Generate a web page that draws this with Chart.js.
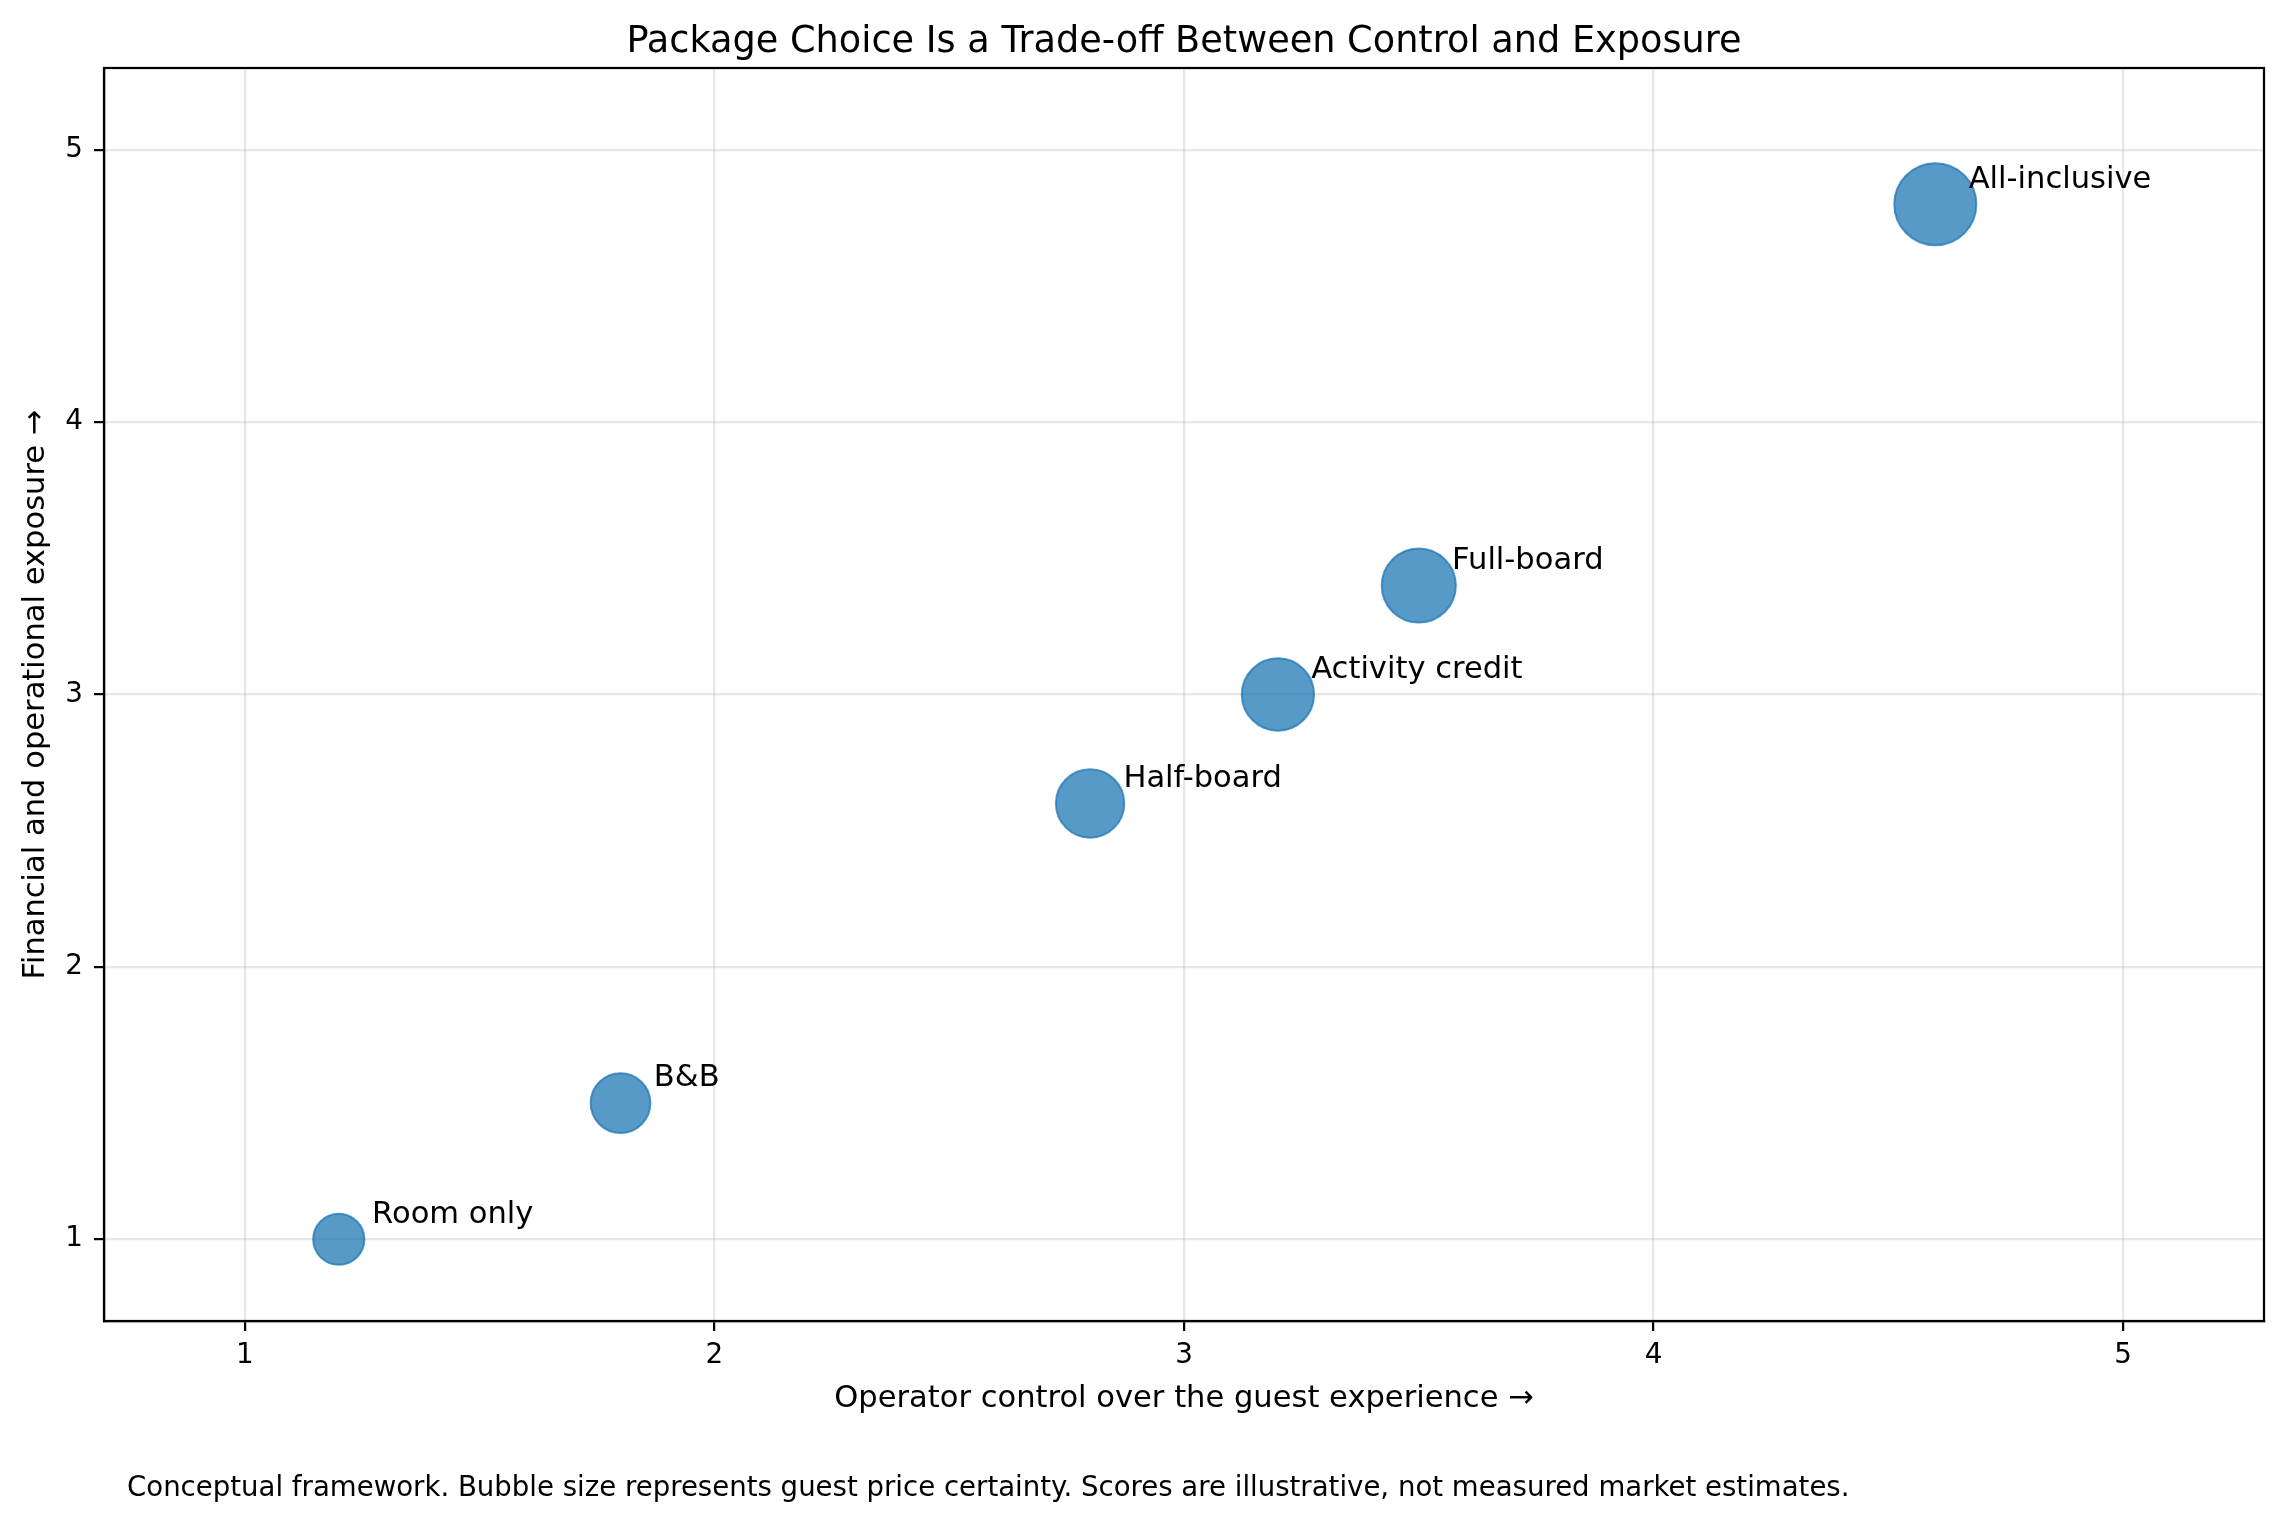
<!DOCTYPE html>
<html>
<head>
<meta charset="utf-8">
<script src="https://cdn.jsdelivr.net/npm/chart.js@4.4.1/dist/chart.umd.min.js"></script>
<style>
  html, body { margin: 0; padding: 0; background: #ffffff; }
  #wrap { width: 2286px; height: 1524px; position: relative; }
  canvas { display: block; }
</style>
</head>
<body>
<div id="wrap"><canvas id="c" width="2286" height="1524"></canvas></div>
<script>
// ---- data ----
const packages = ["Room only", "B&B", "Half-board", "Activity credit", "Full-board", "All-inclusive"];
const operatorControl = [1.2, 1.8, 2.8, 3.2, 3.5, 4.6];
const financialExposure = [1.0, 1.5, 2.6, 3.0, 3.4, 4.8];
const priceCertainty = [2.0, 2.7, 3.5, 3.9, 4.1, 5.0];
const xTicks = [1, 2, 3, 4, 5];
const yTicks = [1, 2, 3, 4, 5];

const titleText = "Package Choice Is a Trade-off Between Control and Exposure";
const xTitle = "Operator control over the guest experience \u2192";
const yTitle = "Financial and operational exposure \u2192";
const footnote = "Conceptual framework. Bubble size represents guest price certainty. Scores are illustrative, not measured market estimates.";

// ---- styling ----
const FONT = "'DejaVu Sans', sans-serif";
const PT = 200 / 72; // px per point
const BORDER_W = 2;
const AREA = { left: 104, top: 68, right: 2264, bottom: 1321 };
function bubbleRadius(c) { return 18.8 * Math.sqrt(c) - BORDER_W / 2; }

const points = packages.map((p, i) => ({
  x: operatorControl[i], y: financialExposure[i], r: bubbleRadius(priceCertainty[i]), label: p
}));

const decorPlugin = {
  id: 'decor',
  afterDraw(chart) {
    const ctx = chart.ctx;
    const a = chart.chartArea;
    const xs = chart.scales.x, ys = chart.scales.y;
    ctx.save();
    // spines
    ctx.strokeStyle = '#000';
    ctx.lineWidth = 0.8 * PT;
    ctx.strokeRect(a.left, a.top, a.right - a.left, a.bottom - a.top);
    // point labels
    ctx.fillStyle = '#000';
    ctx.font = (11 * PT).toFixed(2) + 'px ' + FONT;
    ctx.textAlign = 'left';
    ctx.textBaseline = 'alphabetic';
    points.forEach(pt => {
      const px = xs.getPixelForValue(pt.x) + 12 * PT;
      const py = ys.getPixelForValue(pt.y) - 6 * PT;
      ctx.fillText(pt.label, px, py);
    });
    // title
    const cx = (a.left + a.right) / 2;
    ctx.font = (13.2 * PT).toFixed(2) + 'px ' + FONT;
    ctx.textAlign = 'center';
    ctx.fillText(titleText, cx, 51.5);
    // x axis title
    ctx.font = (11 * PT).toFixed(2) + 'px ' + FONT;
    ctx.fillText(xTitle, cx, 1407);
    // y axis title
    ctx.save();
    ctx.translate(43.5, (a.top + a.bottom) / 2);
    ctx.rotate(-Math.PI / 2);
    ctx.fillText(yTitle, 0, 0);
    ctx.restore();
    // footnote
    ctx.textAlign = 'left';
    ctx.font = (9.93 * PT).toFixed(2) + 'px ' + FONT;
    ctx.fillText(footnote, 127, 1496);
    ctx.restore();
  }
};

const chart = new Chart(document.getElementById('c'), {
  type: 'bubble',
  data: {
    datasets: [{
      data: points,
      backgroundColor: 'rgba(31,119,180,0.75)',
      borderColor: 'rgba(31,119,180,0.75)',
      borderWidth: BORDER_W
    }]
  },
  options: {
    responsive: false,
    devicePixelRatio: 1,
    animation: false,
    events: [],
    layout: { autoPadding: false, padding: { left: 0, top: AREA.top, right: 2286 - AREA.right, bottom: 0 } },
    plugins: { legend: { display: false }, tooltip: { enabled: false }, title: { display: false } },
    scales: {
      x: {
        type: 'linear', position: 'bottom', min: 0.7, max: 5.3,
        afterBuildTicks: axis => { axis.ticks = xTicks.map(v => ({ value: v })); },
        afterFit: s => { s.height = 1524 - AREA.bottom; s.paddingLeft = 0; s.paddingRight = 0; },
        grid: { color: 'rgba(176,176,176,0.3)', lineWidth: 0.8 * PT, tickColor: '#000', tickLength: 10, tickWidth: 0.8 * PT },
        border: { display: true, color: '#000', width: 0.8 * PT },
        ticks: { color: '#000', font: { family: FONT, size: 10 * PT }, padding: 8, maxRotation: 0, autoSkip: false }
      },
      y: {
        type: 'linear', position: 'left', min: 0.7, max: 5.3,
        afterBuildTicks: axis => { axis.ticks = yTicks.map(v => ({ value: v })); },
        afterFit: s => { s.width = AREA.left; s.paddingTop = 0; s.paddingBottom = 0; },
        grid: { color: 'rgba(176,176,176,0.3)', lineWidth: 0.8 * PT, tickColor: '#000', tickLength: 10, tickWidth: 0.8 * PT },
        border: { display: true, color: '#000', width: 0.8 * PT },
        ticks: { color: '#000', font: { family: FONT, size: 10 * PT }, padding: 11, autoSkip: false }
      }
    }
  },
  plugins: [decorPlugin]
});
</script>
</body>
</html>
